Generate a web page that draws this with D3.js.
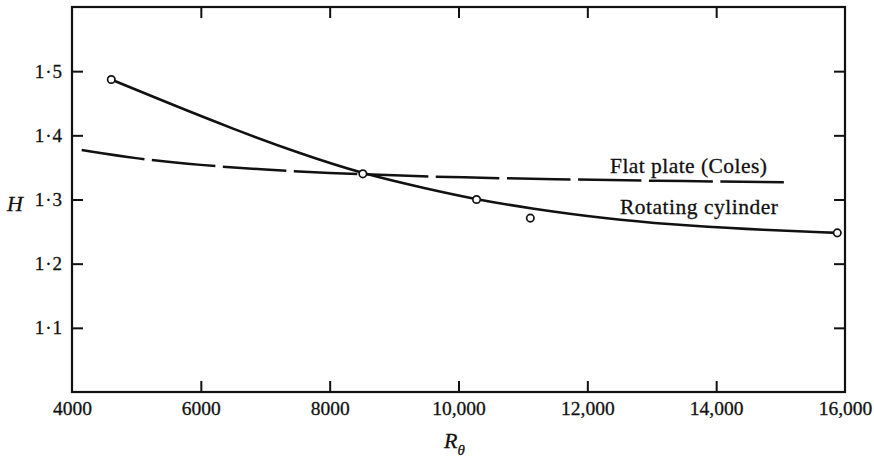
<!DOCTYPE html>
<html>
<head>
<meta charset="utf-8">
<script src="https://cdn.jsdelivr.net/npm/d3@7"></script>
<style>
  html, body { margin: 0; padding: 0; background: #fff; }
  svg { display: block; }
  text { font-family: "Liberation Serif", "Times New Roman", serif; fill: #111; stroke: #111; stroke-width: 0.3px; }
</style>
</head>
<body>
<svg id="chart" width="874" height="458"></svg>
<script>
// Measured points: momentum-thickness Reynolds number vs shape factor H
const pointR = [4610, 8515, 10280, 11115, 15880];
const pointH = [1.487, 1.340, 1.300, 1.271, 1.248];

// Faired curve through the rotating-cylinder measurements
const cylR = [4610, 5500, 6500, 7500, 8515, 9500, 10280, 11112, 12300, 13300, 14400, 15880];
const cylH = [1.487, 1.450, 1.410, 1.373, 1.340, 1.317, 1.300, 1.286, 1.270, 1.261, 1.254, 1.248];

// Flat-plate reference curve (Coles)
const plateR = [4150, 5000, 6000, 7000, 8000, 9000, 10000, 11500, 13000, 15070];
const plateH = [1.377, 1.3635, 1.3535, 1.3463, 1.3412, 1.3375, 1.3345, 1.3315, 1.3292, 1.3268];

// Axis ticks and their printed labels
const xTicks = [4000, 6000, 8000, 10000, 12000, 14000, 16000];
const xTickLabels = ["4000", "6000", "8000", "10,000", "12,000", "14,000", "16,000"];
const yTicks = [1.1, 1.2, 1.3, 1.4, 1.5];
const yTickLabels = ["1·1", "1·2", "1·3", "1·4", "1·5"];

const svg = d3.select("#chart");
const plotLeft = 72, plotRight = 845, plotTop = 7, plotBottom = 392;

const x = d3.scaleLinear().domain([4000, 16000]).range([plotLeft, plotRight]);
const y = d3.scaleLinear().domain([1.0, 1.6]).range([plotBottom, plotTop]);

const tickLen = 11;
const ink = "#111";

// Bottom axis with labels, ticks pointing into the plot
const gx = svg.append("g")
  .attr("transform", `translate(0,${plotBottom})`)
  .call(d3.axisBottom(x).tickValues(xTicks)
    .tickFormat((d, i) => xTickLabels[i])
    .tickSize(-tickLen).tickPadding(9));
// Top axis, ticks only
const gxt = svg.append("g")
  .attr("transform", `translate(0,${plotTop})`)
  .call(d3.axisTop(x).tickValues(xTicks).tickFormat("").tickSize(-tickLen));
// Left axis with labels
const gy = svg.append("g")
  .attr("transform", `translate(${plotLeft},0)`)
  .call(d3.axisLeft(y).tickValues(yTicks)
    .tickFormat((d, i) => yTickLabels[i])
    .tickSize(-tickLen).tickPadding(9));
// Right axis, ticks only
const gyr = svg.append("g")
  .attr("transform", `translate(${plotRight},0)`)
  .call(d3.axisRight(y).tickValues(yTicks).tickFormat("").tickSize(-tickLen));

[gx, gxt, gy, gyr].forEach(g => {
  g.select(".domain").remove();
  g.selectAll(".tick line").attr("stroke", ink).attr("stroke-width", 2);
  g.selectAll(".tick text").attr("fill", ink)
    .style("font-family", '"Liberation Serif", serif');
});
gx.selectAll(".tick text").style("font-size", "19.5px");
gy.selectAll(".tick text").style("font-size", "19px").style("letter-spacing", "1px");
// End ticks coincide with the frame
gx.selectAll(".tick line").filter(d => d === 4000 || d === 16000).remove();
gxt.selectAll(".tick line").filter(d => d === 4000 || d === 16000).remove();

// Plot frame
svg.append("rect")
  .attr("x", plotLeft).attr("y", plotTop)
  .attr("width", plotRight - plotLeft).attr("height", plotBottom - plotTop)
  .attr("fill", "none").attr("stroke", ink).attr("stroke-width", 2.2);

// Flat plate (long dashes)
const plateLine = d3.line()
  .x((d, i) => x(plateR[i]))
  .y((d, i) => y(plateH[i]))
  .curve(d3.curveBasis);
svg.append("path")
  .attr("d", plateLine(plateR))
  .attr("fill", "none").attr("stroke", ink)
  .attr("stroke-width", 2.5)
  .attr("stroke-dasharray", "63.6,7.5");

// Rotating cylinder (solid)
const cylLine = d3.line()
  .x((d, i) => x(cylR[i]))
  .y((d, i) => y(cylH[i]))
  .curve(d3.curveBasis);
svg.append("path")
  .attr("d", cylLine(cylR))
  .attr("fill", "none").attr("stroke", ink)
  .attr("stroke-width", 2.6);

// Data points
svg.selectAll("circle.pt")
  .data(pointR)
  .join("circle")
  .attr("class", "pt")
  .attr("cx", (d, i) => x(d))
  .attr("cy", (d, i) => y(pointH[i]))
  .attr("r", 3.7)
  .attr("fill", "#fff").attr("stroke", ink).attr("stroke-width", 1.7);

// Curve labels
svg.append("text")
  .attr("x", x(12352)).attr("y", y(1.3418))
  .style("font-size", "21.5px").style("letter-spacing", "0.45px")
  .text("Flat plate (Coles)");
svg.append("text")
  .attr("x", x(12507)).attr("y", y(1.2774))
  .style("font-size", "21.5px").style("letter-spacing", "0.5px")
  .text("Rotating cylinder");

// Axis titles
svg.append("text")
  .attr("x", 7).attr("y", 210.5)
  .style("font-size", "22px").style("font-style", "italic")
  .text("H");
const rt = svg.append("text")
  .attr("x", 444).attr("y", 448)
  .style("font-size", "22px").style("font-style", "italic");
rt.append("tspan").text("R");
rt.append("tspan").attr("dy", 7).style("font-size", "15px").text("θ");
</script>
</body>
</html>
